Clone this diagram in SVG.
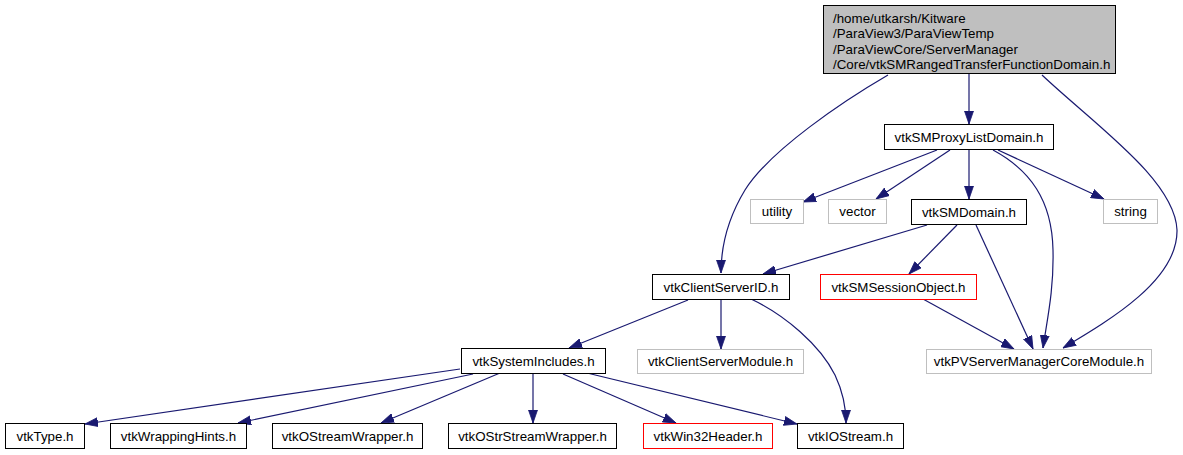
<svg xmlns="http://www.w3.org/2000/svg" width="1183" height="455" viewBox="0 0 1183 455">
<style>
text{font-family:"Liberation Sans",Arial,sans-serif;font-size:13.33px;fill:#000;}
.c{text-anchor:middle;}
.n{fill:#fff;stroke:#000;stroke-width:1;}
.g{fill:#fff;stroke:#bfbfbf;stroke-width:1;}
.r{fill:#fff;stroke:#ff0000;stroke-width:1;}
.root{fill:#bfbfbf;stroke:#000;stroke-width:1;}
.e{fill:none;stroke:#191970;stroke-width:1.2;marker-end:url(#ah);}
</style>
<defs>
<marker id="ah" markerUnits="userSpaceOnUse" viewBox="0 0 13 10" markerWidth="13" markerHeight="10" refX="13" refY="5" orient="auto">
<path d="M0,0.5 L13,5 L0,9.5 Z" fill="#191970" stroke="#191970" stroke-width="0.8"/>
</marker>
</defs>
<rect width="1183" height="455" fill="#fff"/>
<g id="connectors">
<path class="e" d="M969,74 L969,124"/>
<path class="e" d="M888,75 C845,100 770,150 745,190 C728,218 721,245 721,273"/>
<path class="e" d="M1042,75 C1095,125 1175,180 1177,230 C1178,280 1110,320 1063,348"/>
<path class="e" d="M937,150 L803,202"/>
<path class="e" d="M950,150 L876,199"/>
<path class="e" d="M969,150 L969,199"/>
<path class="e" d="M998,150 L1104,199"/>
<path class="e" d="M993,150 C1030,170 1052,200 1053,250 C1054,290 1047,320 1043,348"/>
<path class="e" d="M927,225 L763,274"/>
<path class="e" d="M957,225 L909,274"/>
<path class="e" d="M976,225 L1033,349"/>
<path class="e" d="M923,299 L1014,349"/>
<path class="e" d="M688,300 L569,348"/>
<path class="e" d="M721,299 L721,349"/>
<path class="e" d="M751,299 C785,315 820,345 835,375 C843,392 846,408 846,423"/>
<path class="e" d="M460,369 L85,424"/>
<path class="e" d="M473,374 L238,423"/>
<path class="e" d="M500,373 L381,423"/>
<path class="e" d="M533,373 L533,423"/>
<path class="e" d="M563,374 L676,423"/>
<path class="e" d="M587,373 L797,424"/>
</g>
<g id="root">
<rect class="root" x="823.5" y="5.5" width="292" height="68"/>
<text x="833" y="22.5">/home/utkarsh/Kitware</text>
<text x="833" y="38">/ParaView3/ParaViewTemp</text>
<text x="833" y="53.5">/ParaViewCore/ServerManager</text>
<text x="833" y="69">/Core/vtkSMRangedTransferFunctionDomain.h</text>
</g>
<g id="vtkSMProxyListDomain">
<rect class="n" x="884.5" y="124.5" width="169" height="25"/>
<text class="c" x="969" y="141.5">vtkSMProxyListDomain.h</text>
</g>
<g id="utility">
<rect class="g" x="750.5" y="199.5" width="53" height="24"/>
<text class="c" x="777" y="216">utility</text>
</g>
<g id="vector">
<rect class="g" x="828.5" y="199.5" width="58" height="24"/>
<text class="c" x="857.5" y="216">vector</text>
</g>
<g id="vtkSMDomain">
<rect class="n" x="911.5" y="199.5" width="115" height="25"/>
<text class="c" x="969" y="216.5">vtkSMDomain.h</text>
</g>
<g id="string">
<rect class="g" x="1103.5" y="199.5" width="54" height="24"/>
<text class="c" x="1130.5" y="216">string</text>
</g>
<g id="vtkClientServerID">
<rect class="n" x="652.5" y="274.5" width="137" height="25"/>
<text class="c" x="721" y="291.5">vtkClientServerID.h</text>
</g>
<g id="vtkSMSessionObject">
<rect class="r" x="820.5" y="274.5" width="156" height="25"/>
<text class="c" x="898.5" y="291.5">vtkSMSessionObject.h</text>
</g>
<g id="vtkClientServerModule">
<rect class="g" x="637.5" y="349.5" width="166" height="24"/>
<text class="c" x="720.5" y="366">vtkClientServerModule.h</text>
</g>
<g id="vtkPVServerManagerCoreModule">
<rect class="g" x="926.5" y="349.5" width="225" height="24"/>
<text class="c" x="1039" y="366">vtkPVServerManagerCoreModule.h</text>
</g>
<g id="vtkSystemIncludes">
<rect class="n" x="461.5" y="348.5" width="144" height="25"/>
<text class="c" x="533.5" y="365.5">vtkSystemIncludes.h</text>
</g>
<g id="vtkType">
<rect class="n" x="5.5" y="423.5" width="79" height="25"/>
<text class="c" x="45" y="440.5">vtkType.h</text>
</g>
<g id="vtkWrappingHints">
<rect class="n" x="110.5" y="423.5" width="136" height="25"/>
<text class="c" x="178.5" y="440.5">vtkWrappingHints.h</text>
</g>
<g id="vtkOStreamWrapper">
<rect class="n" x="272.5" y="423.5" width="150" height="25"/>
<text class="c" x="347.5" y="440.5">vtkOStreamWrapper.h</text>
</g>
<g id="vtkOStrStreamWrapper">
<rect class="n" x="448.5" y="423.5" width="168" height="25"/>
<text class="c" x="532.5" y="440.5">vtkOStrStreamWrapper.h</text>
</g>
<g id="vtkWin32Header">
<rect class="r" x="643.5" y="423.5" width="129" height="25"/>
<text class="c" x="708" y="440.5">vtkWin32Header.h</text>
</g>
<g id="vtkIOStream">
<rect class="n" x="797.5" y="423.5" width="106" height="25"/>
<text class="c" x="850.5" y="440.5">vtkIOStream.h</text>
</g>
</svg>
